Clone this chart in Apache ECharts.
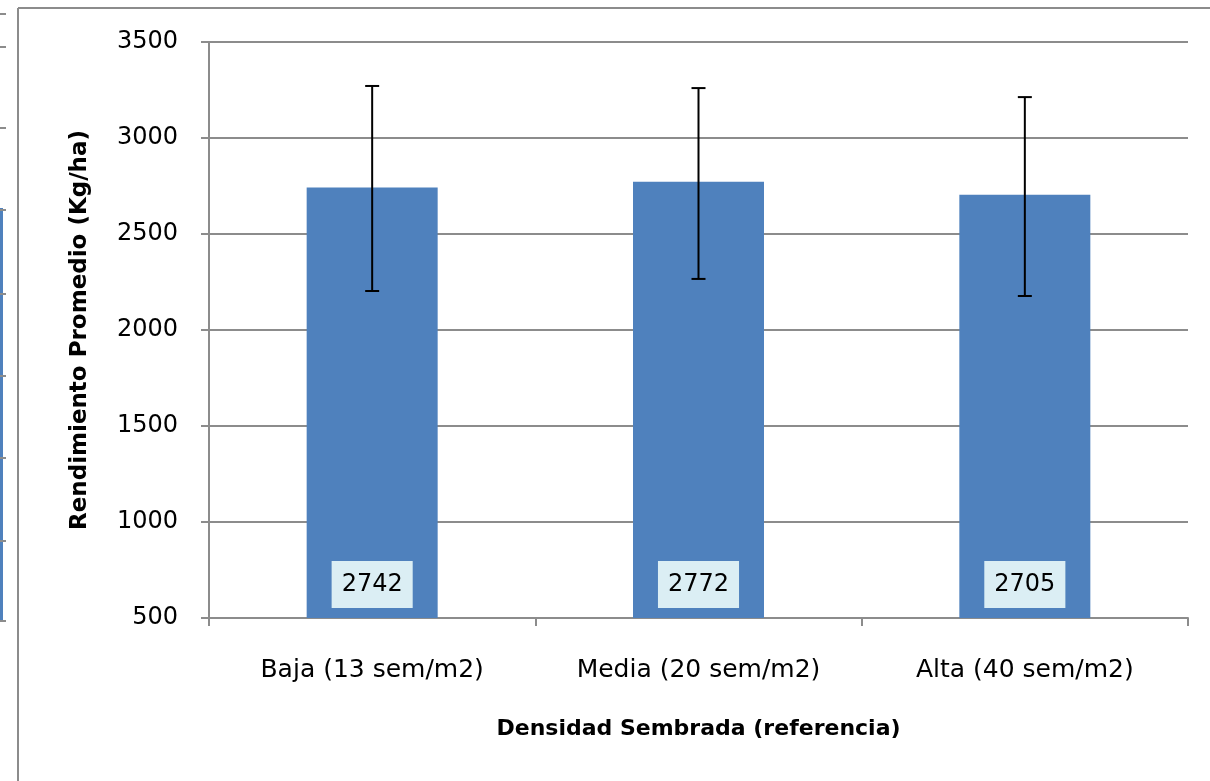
<!DOCTYPE html>
<html><head><meta charset="utf-8">
<script src="https://cdn.jsdelivr.net/npm/echarts@6/dist/echarts.min.js"></script>
<style>html,body{margin:0;padding:0;background:#fff}#c{width:1210px;height:781px}</style>
</head><body><div id="c"></div>
<script>
const categories = ['Baja (13 sem/m2)', 'Media (20 sem/m2)', 'Alta (40 sem/m2)'];
const means = [2742, 2772, 2705];
const errLow = [2203, 2266, 2177];
const errHigh = [3271, 3260, 3213];
const yTicks = [500, 1000, 1500, 2000, 2500, 3000, 3500];
const yTitle = 'Rendimiento Promedio (Kg/ha)';
const xTitle = 'Densidad Sembrada (referencia)';

const FONT = '"DejaVu Sans", sans-serif';
const chart = echarts.init(document.getElementById('c'));
const errData = categories.map((c, i) => [i, errLow[i], errHigh[i]]);
const edgeTicks = [14, 47, 128, 210, 294, 376, 458, 541, 621];
chart.setOption({
  animation: false,
  backgroundColor: '#fff',
  textStyle: { fontFamily: FONT },
  graphic: [
    { type: 'line', shape: { x1: 18, y1: 8, x2: 18, y2: 781 }, style: { stroke: '#8c8c8c', lineWidth: 2 } },
    { type: 'line', shape: { x1: 18, y1: 8, x2: 1210, y2: 8 }, style: { stroke: '#8c8c8c', lineWidth: 2 } },
    { type: 'rect', shape: { x: 0, y: 208, width: 3, height: 413 }, style: { fill: '#4F81BD' } }
  ].concat(edgeTicks.map(y => ({ type: 'line', shape: { x1: 0, y1: y, x2: 6, y2: y }, style: { stroke: '#8c8c8c', lineWidth: 2 } }))),
  grid: { left: 209, right: 22, top: 42, bottom: 163 },
  xAxis: {
    type: 'category',
    data: categories,
    boundaryGap: true,
    name: xTitle,
    nameLocation: 'middle',
    nameGap: 100,
    nameTextStyle: { fontSize: 22, fontWeight: 'bold', color: '#000', fontFamily: FONT },
    axisLine: { lineStyle: { color: '#8c8c8c', width: 2 } },
    axisTick: { show: true, length: 8, lineStyle: { color: '#8c8c8c', width: 2 } },
    axisLabel: { fontSize: 25, color: '#000', margin: 40, fontFamily: FONT },
    splitLine: { show: false }
  },
  yAxis: {
    type: 'value',
    min: yTicks[0],
    max: yTicks[yTicks.length - 1],
    interval: 500,
    name: yTitle,
    nameLocation: 'middle',
    nameGap: 117,
    nameTextStyle: { fontSize: 23, fontWeight: 'bold', color: '#000', fontFamily: FONT },
    axisLine: { show: true, lineStyle: { color: '#8c8c8c', width: 2 } },
    axisTick: { show: true, length: 8, lineStyle: { color: '#8c8c8c', width: 2 } },
    axisLabel: { fontSize: 24, color: '#000', margin: 31, fontFamily: FONT, formatter: v => String(v) },
    splitLine: { lineStyle: { color: '#8c8c8c', width: 2 } }
  },
  series: [
    {
      type: 'bar',
      data: means,
      barWidth: 131,
      itemStyle: { color: '#4F81BD' },
      label: {
        show: true,
        position: 'insideBottom',
        distance: 10,
        color: '#000',
        fontSize: 24,
        fontFamily: FONT,
        backgroundColor: '#DBEEF4',
        padding: [12, 10, 11, 10]
      },
      z: 2
    },
    {
      type: 'custom',
      data: errData,
      z: 5,
      renderItem: function (params, api) {
        const x = api.coord([api.value(0), api.value(1)])[0];
        const yl = api.coord([api.value(0), api.value(1)])[1];
        const yh = api.coord([api.value(0), api.value(2)])[1];
        const hw = 7;
        const st = { stroke: '#000', lineWidth: 2 };
        return {
          type: 'group',
          children: [
            { type: 'line', shape: { x1: x, y1: yh, x2: x, y2: yl }, style: st },
            { type: 'line', shape: { x1: x - hw, y1: yh, x2: x + hw, y2: yh }, style: st },
            { type: 'line', shape: { x1: x - hw, y1: yl, x2: x + hw, y2: yl }, style: st }
          ]
        };
      }
    }
  ]
});
</script></body></html>
